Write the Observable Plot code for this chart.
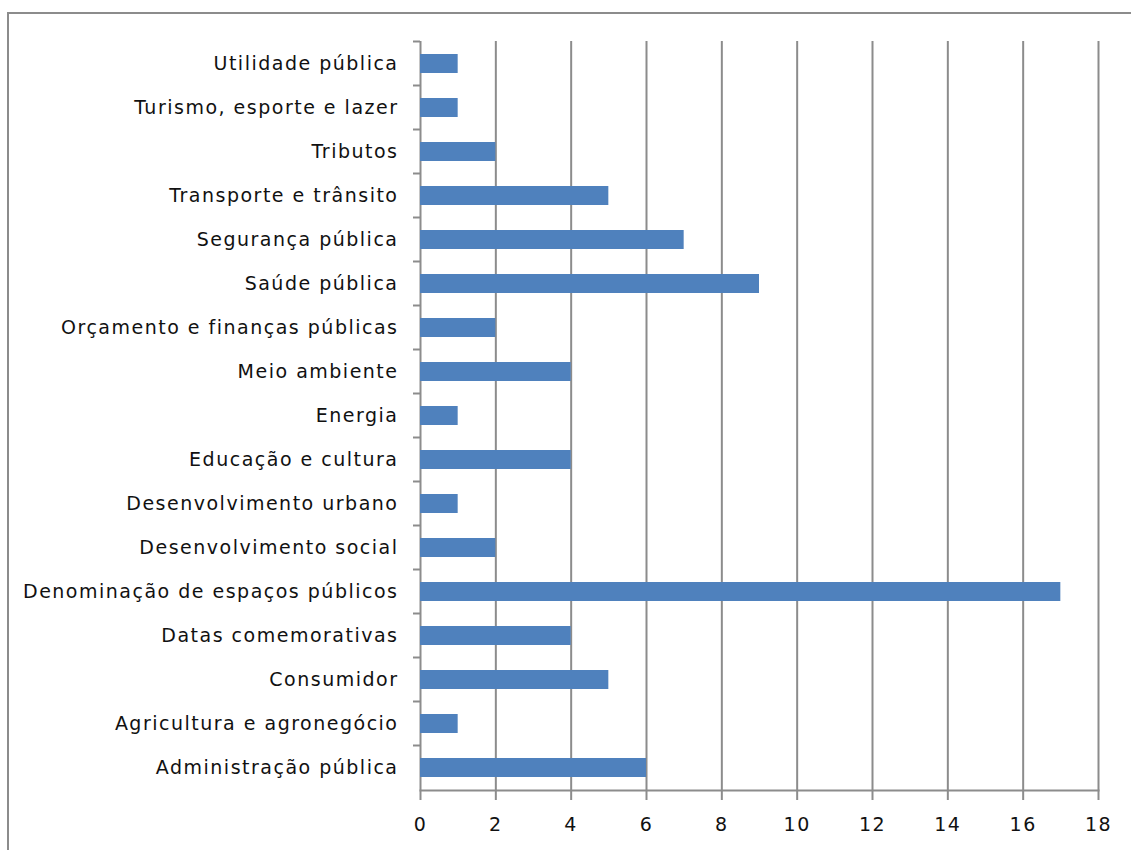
<!DOCTYPE html>
<html>
<head>
<meta charset="utf-8">
<script src="https://cdn.jsdelivr.net/npm/d3@7"></script>
<script src="https://cdn.jsdelivr.net/npm/@observablehq/plot@0.6"></script>
<style>
  html, body { margin: 0; padding: 0; background: #fff; overflow: hidden; }
  #wrap { position: relative; width: 1131px; height: 850px; }
  #border { position: absolute; left: 7px; top: 12px; width: 1200px; height: 900px;
            border-top: 2px solid #8c8c8c; border-left: 2px solid #8c8c8c; }
  #chart { position: absolute; left: 0; top: 0; }
  #chart svg text { letter-spacing: 1.5px; }
</style>
</head>
<body>
<div id="wrap"><div id="border"></div><div id="chart"></div></div>
<script>
const categories = [
  "Utilidade pública",
  "Turismo, esporte e lazer",
  "Tributos",
  "Transporte e trânsito",
  "Segurança pública",
  "Saúde pública",
  "Orçamento e finanças públicas",
  "Meio ambiente",
  "Energia",
  "Educação e cultura",
  "Desenvolvimento urbano",
  "Desenvolvimento social",
  "Denominação de espaços públicos",
  "Datas comemorativas",
  "Consumidor",
  "Agricultura e agronegócio",
  "Administração pública"
];
const values = [1, 1, 2, 5, 7, 9, 2, 4, 1, 4, 1, 2, 17, 4, 5, 1, 6];
const xTicks = [0, 2, 4, 6, 8, 10, 12, 14, 16, 18];

const data = categories.map((c, i) => ({category: c, value: values[i]}));
const gridColor = "#8c8c8c";

const plot = Plot.plot({
  width: 1131,
  height: 850,
  marginLeft: 420,
  marginRight: 33,
  marginTop: 41,
  marginBottom: 60,
  style: {fontFamily: "'DejaVu Sans', sans-serif", fontSize: "19px", color: "#111", background: "transparent"},
  x: {domain: [0, 18], ticks: xTicks, label: null},
  y: {domain: categories, paddingInner: 0.57, paddingOuter: 0.285, label: null},
  marks: [
    Plot.ruleX(xTicks, {stroke: gridColor, strokeWidth: 2}),
    Plot.frame({anchor: "bottom", stroke: gridColor, strokeWidth: 2}),
    Plot.barX(data, {x: "value", y: "category", fill: "#4f81bd"}),
    Plot.axisX({ticks: xTicks, tickSize: 10, tickPadding: 17, stroke: gridColor, strokeWidth: 2, label: null, fontSize: 19}),
    Plot.axisY({tickSize: 0, tickPadding: 22, label: null, fontSize: 19})
  ]
});

document.getElementById("chart").appendChild(plot);

// band boundary ticks on the y axis, computed from the y scale
const ys = plot.scale("y");
const xs = plot.scale("x");
const x0 = xs.apply(0);
const bounds = categories.map(c => ys.apply(c) - (ys.step - ys.bandwidth) / 2);
const svg = d3.select(plot);
svg.append("g")
  .attr("stroke", gridColor)
  .attr("stroke-width", 2)
  .selectAll("line")
  .data(bounds)
  .join("line")
  .attr("x1", x0 - 7)
  .attr("x2", x0)
  .attr("y1", d => d)
  .attr("y2", d => d);
</script>
</body>
</html>
